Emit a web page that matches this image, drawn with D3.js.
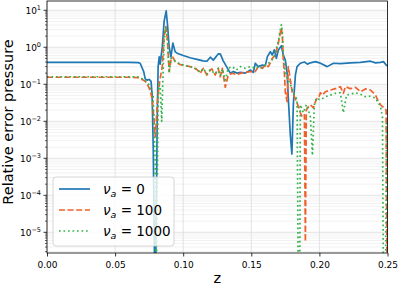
<!DOCTYPE html>
<html>
<head>
<meta charset="utf-8">
<script src="https://cdn.jsdelivr.net/npm/d3@7"></script>
<style>
  body { margin: 0; background: #fff; }
  svg { display: block; font-family: "DejaVu Sans", sans-serif; }
</style>
</head>
<body>
<div id="vis"></div>
<script>
// frame constants
const FRAME_WIDTH = 399;
const FRAME_HEIGHT = 287;
const MARGINS = {left: 47, right: 11.5, top: 1, bottom: 34};
const VIS_WIDTH = FRAME_WIDTH - MARGINS.left - MARGINS.right;
const VIS_HEIGHT = FRAME_HEIGHT - MARGINS.top - MARGINS.bottom;

// data
const Z_BLUE = [0, 0.060, 0.0669, 0.0684, 0.0710, 0.0721, 0.0735, 0.0750, 0.0764, 0.0772, 0.0780, 0.0787, 0.0794,
  0.0801, 0.0809, 0.0816, 0.0824, 0.0831, 0.0846, 0.0860, 0.0875, 0.0885, 0.0897, 0.0910, 0.0924, 0.0941, 0.0960,
  0.1000, 0.1051, 0.1101, 0.1147, 0.1174, 0.1199, 0.1221, 0.1257, 0.1272, 0.1294, 0.1331, 0.1346, 0.1368, 0.1397,
  0.1419, 0.1456, 0.1493, 0.1515, 0.1529, 0.1551, 0.1581, 0.1603, 0.1618, 0.1640, 0.1654, 0.1669, 0.1684, 0.1699,
  0.1713, 0.1721, 0.1735, 0.1750, 0.1763, 0.1772, 0.1787, 0.1798, 0.1809, 0.1824, 0.1836, 0.1860, 0.1890, 0.1912,
  0.1934, 0.1971, 0.2000, 0.2057, 0.2103, 0.2154, 0.2228, 0.2301, 0.2375, 0.2412, 0.2449, 0.2470, 0.2490, 0.2500];
const V_BLUE = [0.39, 0.39, 0.385, 0.37, 0.22, 0.14, 0.13, 0.135, 0.12, 0.05, 0.002, 1e-5, 1e-7,
  1e-5, 0.01, 0.3, 0.55, 0.35, 1.0, 5, 9.6, 4, 1.0, 0.55, 1.3, 0.75, 0.68,
  0.6, 0.52, 0.47, 0.43, 0.42, 0.54, 0.45, 0.66, 0.66, 0.43, 0.25, 0.20, 0.22, 0.20,
  0.21, 0.20, 0.243, 0.21, 0.37, 0.30, 0.33, 0.32, 0.56, 0.76, 0.62, 0.85, 0.50, 0.85,
  1.0, 1.1, 0.62, 0.45, 0.2, 0.04, 0.004, 0.0013, 0.03, 0.18, 0.30, 0.37, 0.40, 0.35,
  0.38, 0.41, 0.38, 0.30, 0.37, 0.36, 0.38, 0.39, 0.42, 0.38, 0.39, 0.41, 0.33, 0.32];

const Z_ORANGE = [0, 0.060, 0.0669, 0.0684, 0.0721, 0.0733, 0.0757, 0.0772, 0.0787, 0.0794, 0.0801, 0.0809,
  0.0824, 0.0846, 0.0860, 0.0873, 0.0885, 0.0897, 0.0910, 0.0924, 0.0941, 0.0978, 0.1051, 0.1101, 0.1125, 0.1147,
  0.1174, 0.1199, 0.1211, 0.1235, 0.1257, 0.1272, 0.1287, 0.1309, 0.1331, 0.1360, 0.1397, 0.1419, 0.1456, 0.1493,
  0.1529, 0.1551, 0.1581, 0.1603, 0.1625, 0.1640, 0.1654, 0.1676, 0.1699, 0.1713, 0.1721, 0.1728, 0.1735, 0.1743,
  0.1750, 0.1763, 0.1772, 0.1787, 0.1801, 0.1824, 0.1846, 0.1860, 0.1875, 0.1890, 0.1897, 0.1904, 0.1912, 0.1934,
  0.1956, 0.1978, 0.1993, 0.2007, 0.2022, 0.2044, 0.2081, 0.2118, 0.2154, 0.2176, 0.2191, 0.2228, 0.2265, 0.2301,
  0.2338, 0.2375, 0.2412, 0.2434, 0.2449, 0.2463, 0.2478, 0.2490, 0.2497];
const V_ORANGE = [0.155, 0.155, 0.152, 0.145, 0.12, 0.106, 0.07, 0.04, 0.01, 0.0038, 0.008, 0.03,
  0.1, 0.3, 2, 3.6, 1.5, 0.22, 0.45, 0.54, 0.41, 0.34, 0.30, 0.25, 0.198, 0.27,
  0.178, 0.243, 0.26, 0.178, 0.27, 0.16, 0.27, 0.083, 0.178, 0.198, 0.18, 0.198, 0.21, 0.22,
  0.22, 0.30, 0.27, 0.33, 0.30, 0.38, 0.50, 0.62, 1.3, 2.5, 3.3, 2.0, 0.45, 0.2,
  0.06, 0.034, 0.30, 0.13, 0.06, 0.04, 0.025, 0.017, 0.013, 0.015, 5.6e-6, 0.02, 0.023, 0.028,
  0.023, 0.04, 0.042, 0.059, 0.051, 0.063, 0.07, 0.076, 0.086, 0.057, 0.086, 0.076, 0.083, 0.063,
  0.075, 0.07, 0.051, 0.034, 0.028, 0.025, 0.023, 0.02, 1e-7];

const Z_GREEN = [0, 0.060, 0.0669, 0.0684, 0.0721, 0.0757, 0.0779, 0.0794, 0.0801, 0.0809, 0.0816, 0.0824,
  0.0831, 0.0842, 0.0850, 0.0860, 0.0873, 0.0885, 0.0897, 0.0910, 0.0924, 0.0941, 0.0978, 0.1051, 0.1101, 0.1125,
  0.1147, 0.1174, 0.1199, 0.1235, 0.1257, 0.1272, 0.1287, 0.1309, 0.1331, 0.1360, 0.1390, 0.1419, 0.1456, 0.1493,
  0.1529, 0.1551, 0.1581, 0.1603, 0.1640, 0.1669, 0.1699, 0.1713, 0.1721, 0.1728, 0.1735, 0.1750, 0.1763, 0.1787,
  0.1809, 0.1836, 0.1846, 0.1855, 0.1860, 0.1882, 0.1904, 0.1919, 0.1934, 0.1949, 0.1963, 0.1978, 0.2007, 0.2044,
  0.2081, 0.2118, 0.2154, 0.2176, 0.2199, 0.2228, 0.2265, 0.2301, 0.2338, 0.2375, 0.2412, 0.2434, 0.2449, 0.2463,
  0.2471, 0.2485, 0.2493, 0.2500];
const V_GREEN = [0.16, 0.16, 0.157, 0.15, 0.13, 0.09, 0.05, 0.001, 1e-7, 1e-4, 0.05, 0.1,
  0.084, 0.01, 0.1, 1.5, 3.6, 1.5, 0.2, 0.5, 0.5, 0.42, 0.35, 0.30, 0.26, 0.21,
  0.27, 0.19, 0.25, 0.19, 0.27, 0.17, 0.26, 0.13, 0.27, 0.30, 0.243, 0.30, 0.27, 0.30,
  0.27, 0.30, 0.28, 0.33, 0.40, 0.55, 1.5, 3, 4.1, 2.5, 0.6, 0.2, 0.15, 0.1,
  0.06, 0.038, 1e-7, 1e-7, 0.028, 0.017, 0.028, 0.02, 0.013, 0.0012, 0.028, 0.042, 0.038, 0.046,
  0.051, 0.057, 0.059, 0.017, 0.051, 0.054, 0.059, 0.054, 0.046, 0.048, 0.042, 0.031, 0.025, 0.013,
  1e-7, 1e-7, 0.01, 0.005];

const X_TICKS = [0, 0.05, 0.10, 0.15, 0.20, 0.25];
const Y_DECADES = [-5, -4, -3, -2, -1, 0, 1];
const LEGEND_LABELS = ["0", "100", "1000"];

const SERIES = [
  {z: Z_BLUE, v: V_BLUE, color: "#1f77b4", dash: null},
  {z: Z_ORANGE, v: V_ORANGE, color: "#f0602a", dash: "6,2.6"},
  {z: Z_GREEN, v: V_GREEN, color: "#33b449", dash: "1.7,2.8"}
];

const FRAME = d3.select("#vis")
  .append("svg")
    .attr("width", FRAME_WIDTH)
    .attr("height", FRAME_HEIGHT);

const X_SCALE = d3.scaleLinear().domain([0, 0.25]).range([0, VIS_WIDTH]);
const Y_SCALE = d3.scaleLog().domain([2.76e-6, 17.8]).range([VIS_HEIGHT, 0]);

const plot = FRAME.append("g")
  .attr("transform", "translate(" + MARGINS.left + "," + MARGINS.top + ")");

plot.append("clipPath").attr("id", "clip")
  .append("rect").attr("width", VIS_WIDTH).attr("height", VIS_HEIGHT);

// minor grid (2..9 of each decade)
const minorVals = [];
for (let e = -6; e <= 1; e++) {
  for (let m = 2; m <= 9; m++) {
    const val = m * Math.pow(10, e);
    if (val > 2.76e-6 && val < 17.8) minorVals.push(val);
  }
}
plot.append("g").selectAll("line").data(minorVals).enter().append("line")
  .attr("x1", 0).attr("x2", VIS_WIDTH)
  .attr("y1", (d) => Y_SCALE(d)).attr("y2", (d) => Y_SCALE(d))
  .attr("stroke", "#ececec").attr("stroke-width", 0.7);

// major grid
plot.append("g").selectAll("line").data(Y_DECADES).enter().append("line")
  .attr("x1", 0).attr("x2", VIS_WIDTH)
  .attr("y1", (d) => Y_SCALE(Math.pow(10, d))).attr("y2", (d) => Y_SCALE(Math.pow(10, d)))
  .attr("stroke", "#dcdcdc").attr("stroke-width", 0.8);
plot.append("g").selectAll("line").data(X_TICKS).enter().append("line")
  .attr("x1", (d) => X_SCALE(d)).attr("x2", (d) => X_SCALE(d))
  .attr("y1", 0).attr("y2", VIS_HEIGHT)
  .attr("stroke", "#dcdcdc").attr("stroke-width", 0.8);

// lines
const line = d3.line()
  .x((d) => X_SCALE(d[0]))
  .y((d) => Y_SCALE(d[1]));

const lineG = plot.append("g").attr("clip-path", "url(#clip)");
SERIES.forEach((s) => {
  const pts = s.z.map((z, i) => [z, s.v[i]]);
  lineG.append("path")
    .datum(pts)
    .attr("d", line)
    .attr("fill", "none")
    .attr("stroke", s.color)
    .attr("stroke-width", 1.7)
    .attr("stroke-linejoin", "round")
    .attr("stroke-dasharray", s.dash);
});

// x axis
const xAxis = plot.append("g")
  .attr("transform", "translate(0," + VIS_HEIGHT + ")")
  .call(d3.axisBottom(X_SCALE).tickValues(X_TICKS).tickFormat(d3.format(".2f")).tickSize(3.5).tickPadding(5));
xAxis.select(".domain").remove();
xAxis.selectAll("text").attr("font-size", "9px").attr("fill", "#000").attr("font-family", "DejaVu Sans");
xAxis.selectAll("line").attr("stroke", "#000").attr("stroke-width", 0.8);

// y axis: major ticks with 10^n labels
const yAxis = plot.append("g");
yAxis.selectAll(".maj").data(Y_DECADES).enter().append("line")
  .attr("x1", -3.5).attr("x2", 0)
  .attr("y1", (d) => Y_SCALE(Math.pow(10, d))).attr("y2", (d) => Y_SCALE(Math.pow(10, d)))
  .attr("stroke", "#000").attr("stroke-width", 0.8);
yAxis.selectAll(".min").data(minorVals).enter().append("line")
  .attr("x1", -2).attr("x2", 0)
  .attr("y1", (d) => Y_SCALE(d)).attr("y2", (d) => Y_SCALE(d))
  .attr("stroke", "#000").attr("stroke-width", 0.6);
const yLab = yAxis.selectAll("text").data(Y_DECADES).enter().append("text")
  .attr("x", -6)
  .attr("y", (d) => Y_SCALE(Math.pow(10, d)) + 3.5)
  .attr("text-anchor", "end")
  .attr("font-size", "9px");
yLab.append("tspan").text("10");
yLab.append("tspan").attr("dy", -4).attr("font-size", "6.5px")
  .text((d) => d < 0 ? "\u2212" + (-d) : String(d));

// frame
plot.append("rect")
  .attr("width", VIS_WIDTH).attr("height", VIS_HEIGHT)
  .attr("fill", "none").attr("stroke", "#000").attr("stroke-width", 0.8);

// axis labels
FRAME.append("text")
  .attr("x", MARGINS.left + VIS_WIDTH / 2).attr("y", 283)
  .attr("text-anchor", "middle").attr("font-size", "14.5px").text("z");
FRAME.append("text")
  .attr("transform", "translate(13," + (MARGINS.top + 121) + ") rotate(-90)")
  .attr("text-anchor", "middle").attr("font-size", "14.5px").text("Relative error pressure");

// legend
const LEG = {x: 53 - MARGINS.left, y: 177 - MARGINS.top, w: 121, h: 69};
const leg = plot.append("g");
leg.append("rect")
  .attr("x", LEG.x).attr("y", LEG.y).attr("width", LEG.w).attr("height", LEG.h)
  .attr("rx", 3).attr("fill", "#fff").attr("fill-opacity", 0.8)
  .attr("stroke", "#cccccc").attr("stroke-width", 0.8);
SERIES.forEach((s, i) => {
  const yy = LEG.y + 12 + i * 21;
  leg.append("line")
    .attr("x1", LEG.x + 6).attr("x2", LEG.x + 37)
    .attr("y1", yy).attr("y2", yy)
    .attr("stroke", s.color).attr("stroke-width", 1.7)
    .attr("stroke-dasharray", s.dash);
  const t = leg.append("text")
    .attr("x", LEG.x + 50).attr("y", yy + 4.5)
    .attr("font-size", "13.5px");
  t.append("tspan").attr("font-style", "italic").text("\u03bd");
  t.append("tspan").attr("font-style", "italic").attr("font-size", "9.5px").attr("dy", 3).text("a");
  t.append("tspan").attr("dy", -3).text(" = " + LEGEND_LABELS[i]);
});
</script>
</body>
</html>
